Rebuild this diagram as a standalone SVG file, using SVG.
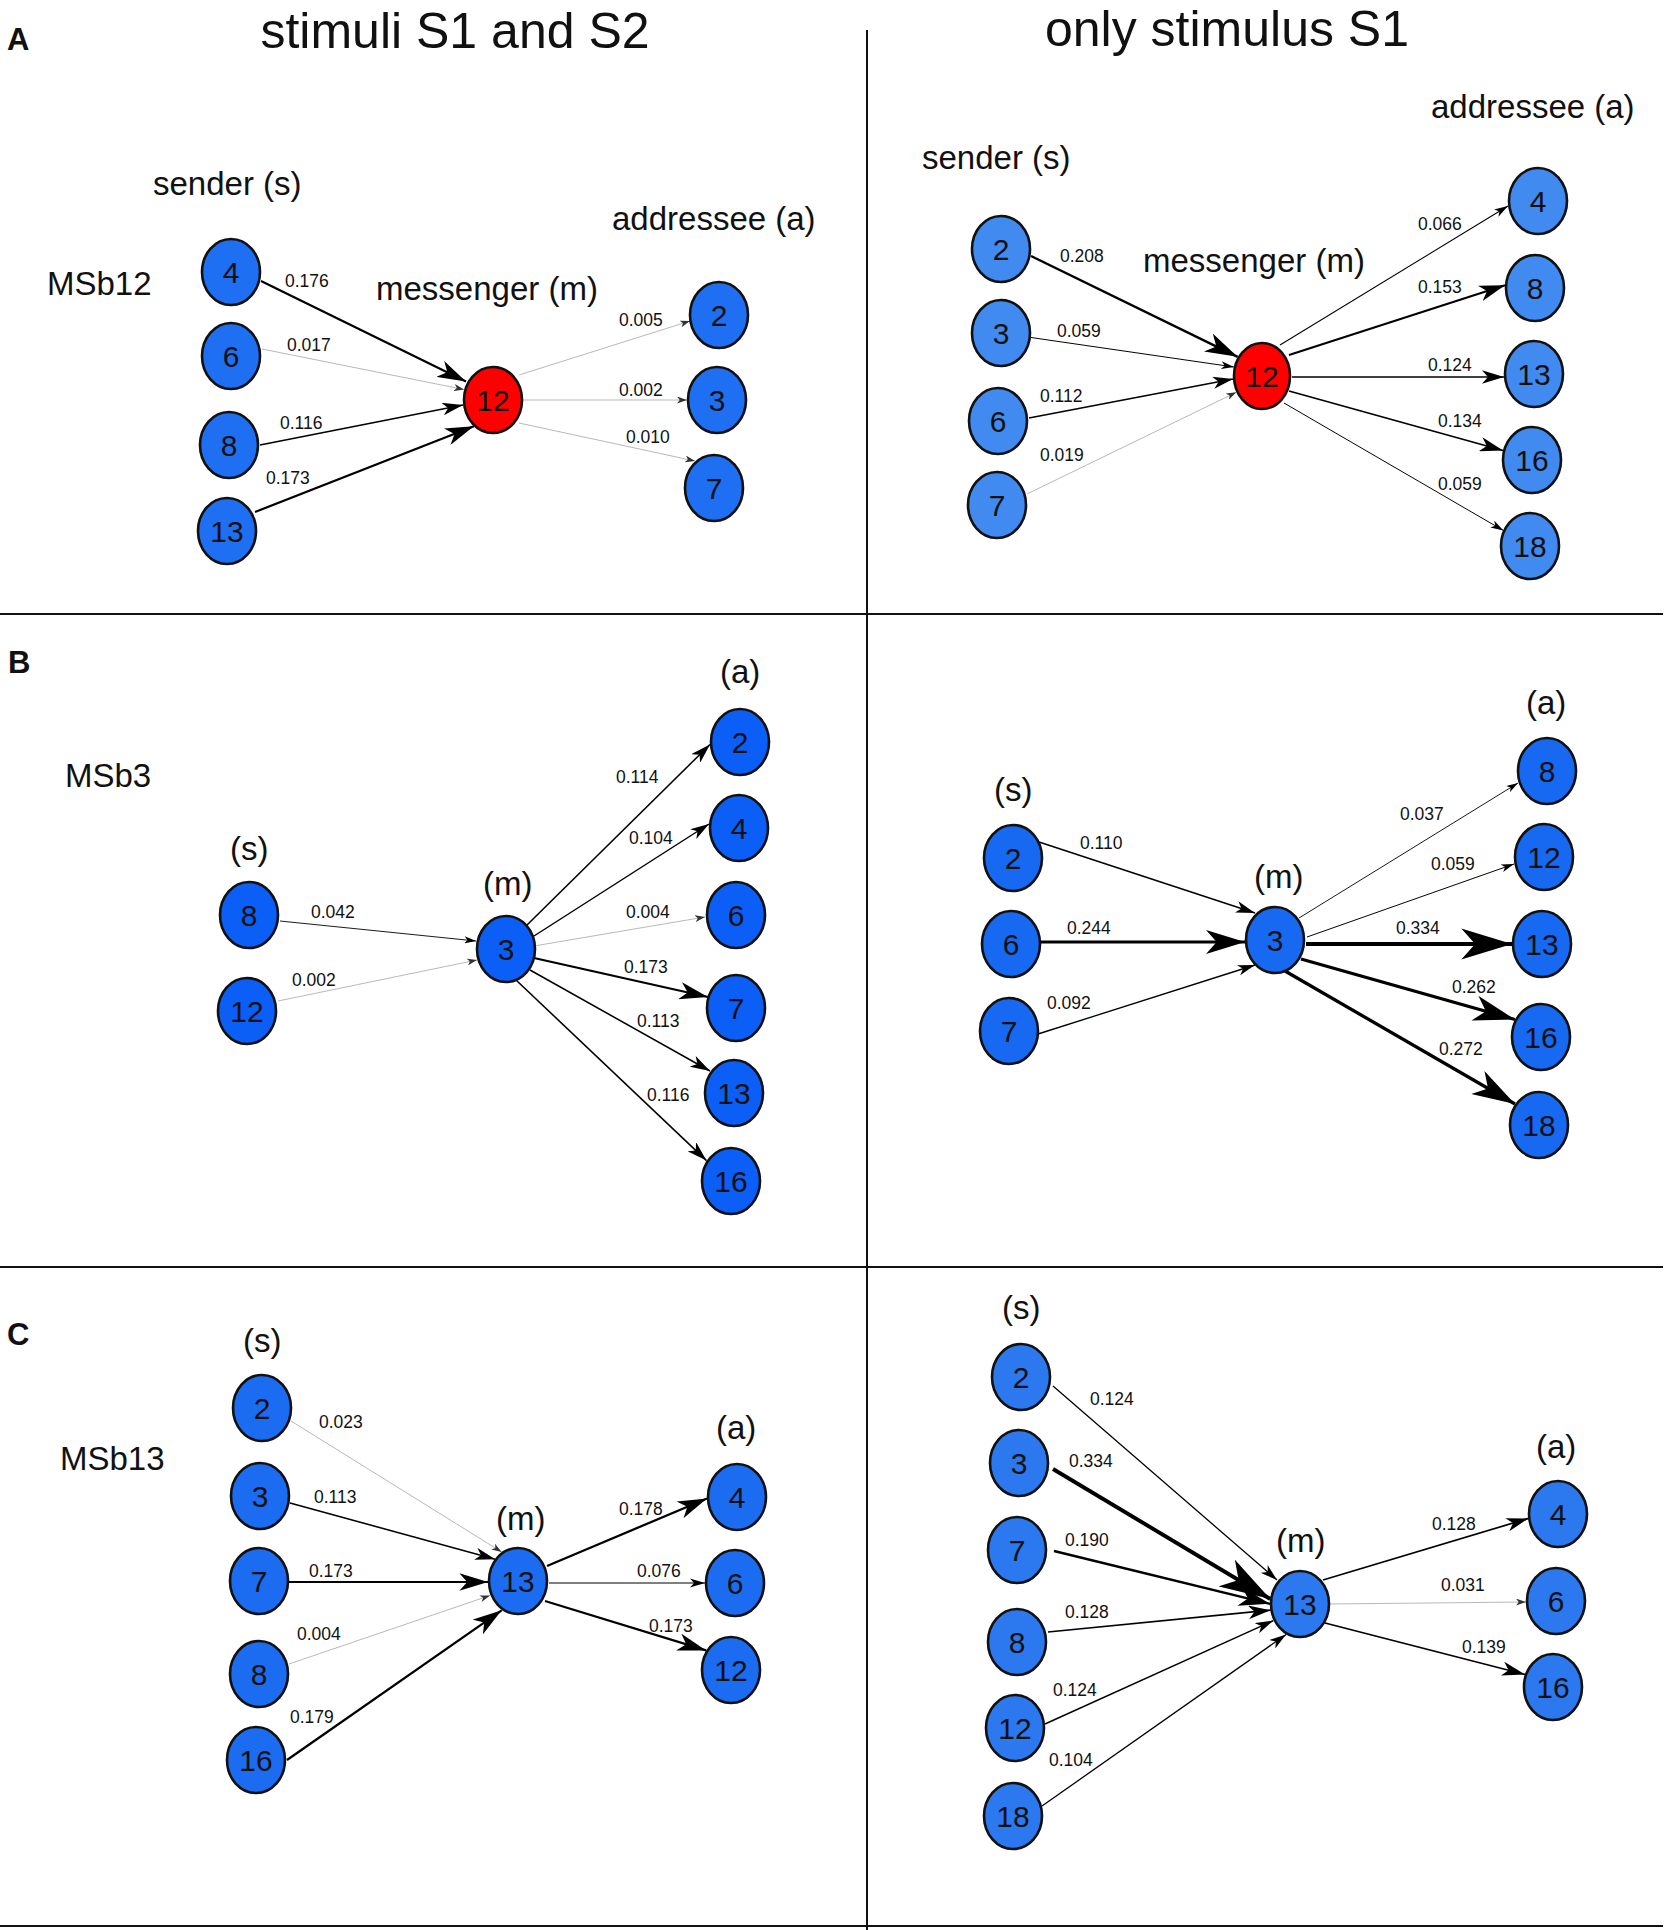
<svg xmlns="http://www.w3.org/2000/svg" width="1669" height="1930" viewBox="0 0 1669 1930">
<style>
text{font-family:"Liberation Sans",Arial,sans-serif;fill:#111}
.ttl{font-size:50px;text-anchor:middle}
.pl{font-size:31px;font-weight:bold}
.lbl{font-size:33px}
.w{font-size:17.5px}
.n ellipse{stroke:#111;stroke-width:2.6}
.n text{font-size:30px;text-anchor:middle}
.fa1{fill:#1f6ff2}.fa2{fill:#418af0}.fb1{fill:#0b5ff6}.fb2{fill:#1669f0}.fc1{fill:#1c6cf2}.fc2{fill:#2c78ee}.red{fill:#ff0000}
.e{stroke:#000;fill:none;marker-end:url(#ah)}
.g{stroke:#9a9a9a;stroke-width:0.7;fill:none;marker-end:url(#ahs)}
.frame{stroke:#111;stroke-width:2}
</style>
<defs>
<marker id="ah" viewBox="0 0 11 7.5" refX="11" refY="3.75" markerWidth="13" markerHeight="8" markerUnits="strokeWidth" orient="auto" preserveAspectRatio="none"><path d="M0,0 L11,3.75 L0,7.5 L3,3.75 z" fill="#000"/></marker>
<marker id="ahs" viewBox="0 0 11 7.5" refX="11" refY="3.75" markerWidth="10" markerHeight="7" markerUnits="userSpaceOnUse" orient="auto" preserveAspectRatio="none"><path d="M0,0 L11,3.75 L0,7.5 L3,3.75 z" fill="#333"/></marker>
</defs>
<rect width="1669" height="1930" fill="#fff"/>
<g id="frame">
<line class="frame" x1="867" y1="30" x2="867" y2="1930"/>
<line class="frame" x1="0" y1="614" x2="1663" y2="614"/>
<line class="frame" x1="0" y1="1267" x2="1663" y2="1267"/>
<line class="frame" x1="0" y1="1926" x2="1663" y2="1926"/>
</g>
<g id="titles">
<text class="ttl" x="455" y="48">stimuli S1 and S2</text>
<text class="ttl" x="1227" y="46">only stimulus S1</text>
<text class="pl" x="7" y="50">A</text>
<text class="pl" x="8" y="673">B</text>
<text class="pl" x="7" y="1345">C</text>
</g>
<g id="labels">
<text class="lbl" x="153" y="195">sender (s)</text>
<text class="lbl" x="376" y="300">messenger (m)</text>
<text class="lbl" x="612" y="230">addressee (a)</text>
<text class="lbl" x="47" y="295">MSb12</text>
<text class="lbl" x="1431" y="118">addressee (a)</text>
<text class="lbl" x="922" y="169">sender (s)</text>
<text class="lbl" x="1143" y="272">messenger (m)</text>
<text class="lbl" x="65" y="787">MSb3</text>
<text class="lbl" x="230" y="860">(s)</text>
<text class="lbl" x="483" y="895">(m)</text>
<text class="lbl" x="720" y="683">(a)</text>
<text class="lbl" x="1526" y="714">(a)</text>
<text class="lbl" x="994" y="801">(s)</text>
<text class="lbl" x="1254" y="888">(m)</text>
<text class="lbl" x="60" y="1470">MSb13</text>
<text class="lbl" x="243" y="1352">(s)</text>
<text class="lbl" x="496" y="1530">(m)</text>
<text class="lbl" x="716" y="1439">(a)</text>
<text class="lbl" x="1002" y="1319">(s)</text>
<text class="lbl" x="1276" y="1552">(m)</text>
<text class="lbl" x="1536" y="1458">(a)</text>
</g>
<g id="connectors">
<line class="e" x1="261" y1="281" x2="466" y2="381.5" stroke-width="2.2"/>
<line class="g" x1="262" y1="349" x2="464" y2="389.5"/>
<line class="e" x1="260" y1="445" x2="463" y2="405" stroke-width="1.6"/>
<line class="e" x1="255" y1="512" x2="473.9" y2="426.3" stroke-width="2.2"/>
<line class="g" x1="519" y1="375" x2="690" y2="321"/>
<line class="g" x1="522" y1="400" x2="687" y2="400"/>
<line class="g" x1="519" y1="423" x2="695" y2="461"/>
<line class="e" x1="1031" y1="256" x2="1237.6" y2="356.8" stroke-width="2.5"/>
<line class="e" x1="1031" y1="337.5" x2="1234" y2="367" stroke-width="0.99"/>
<line class="e" x1="1029" y1="418" x2="1233" y2="379" stroke-width="1.55"/>
<line class="g" x1="1027" y1="494" x2="1236.3" y2="392.3"/>
<line class="e" x1="1280" y1="345" x2="1508" y2="206" stroke-width="1.06"/>
<line class="e" x1="1289" y1="355" x2="1505" y2="285.3" stroke-width="2"/>
<line class="e" x1="1292" y1="377" x2="1504" y2="377" stroke-width="1.7"/>
<line class="e" x1="1289" y1="391" x2="1503.1" y2="450.5" stroke-width="1.8"/>
<line class="e" x1="1284" y1="403" x2="1503.4" y2="530.5" stroke-width="0.99"/>
<line class="e" x1="280" y1="921" x2="476" y2="941" stroke-width="0.9"/>
<line class="g" x1="278" y1="1001" x2="477" y2="960"/>
<line class="e" x1="527" y1="925" x2="710" y2="744.5" stroke-width="1.54"/>
<line class="e" x1="534" y1="936" x2="709" y2="824" stroke-width="1.44"/>
<line class="g" x1="534" y1="946" x2="705" y2="917"/>
<line class="e" x1="534" y1="958" x2="708" y2="997" stroke-width="2.2"/>
<line class="e" x1="530" y1="970" x2="710" y2="1071" stroke-width="1.53"/>
<line class="e" x1="516" y1="980" x2="706.5" y2="1160.6" stroke-width="1.56"/>
<line class="e" x1="1039" y1="842" x2="1255" y2="913" stroke-width="1.5"/>
<line class="e" x1="1041" y1="942" x2="1245" y2="942" stroke-width="3"/>
<line class="e" x1="1038" y1="1034" x2="1255" y2="965" stroke-width="1.32"/>
<line class="e" x1="1299" y1="918" x2="1518" y2="783" stroke-width="0.9"/>
<line class="e" x1="1307" y1="937" x2="1514" y2="864" stroke-width="0.99"/>
<line class="e" x1="1306" y1="944" x2="1512" y2="944" stroke-width="3.9"/>
<line class="e" x1="1301" y1="959" x2="1515" y2="1019.5" stroke-width="3.2"/>
<line class="e" x1="1285" y1="971" x2="1515" y2="1104" stroke-width="3.3"/>
<line class="g" x1="291" y1="1421" x2="501.6" y2="1551.9"/>
<line class="e" x1="290" y1="1503" x2="495.2" y2="1559.2" stroke-width="1.55"/>
<line class="e" x1="289" y1="1582" x2="488" y2="1582" stroke-width="2.2"/>
<line class="g" x1="289" y1="1664" x2="490" y2="1595.5"/>
<line class="e" x1="287" y1="1760" x2="501.7" y2="1610.3" stroke-width="2.25"/>
<line class="e" x1="547" y1="1566" x2="707" y2="1498.5" stroke-width="2.25"/>
<line class="e" x1="549" y1="1583" x2="705" y2="1583" stroke-width="1.16"/>
<line class="e" x1="545" y1="1601" x2="706.1" y2="1650.4" stroke-width="2.2"/>
<line class="e" x1="1053" y1="1386" x2="1277" y2="1580" stroke-width="1.3"/>
<line class="e" x1="1053" y1="1469" x2="1270.3" y2="1599" stroke-width="3.9"/>
<line class="e" x1="1054" y1="1551" x2="1270" y2="1603.8" stroke-width="2.4"/>
<line class="e" x1="1048" y1="1632" x2="1270.5" y2="1610.2" stroke-width="1.7"/>
<line class="e" x1="1045" y1="1724" x2="1273.4" y2="1620.6" stroke-width="1.4"/>
<line class="e" x1="1042" y1="1806" x2="1286.1" y2="1634.5" stroke-width="1.3"/>
<line class="e" x1="1323" y1="1580" x2="1528.5" y2="1518.4" stroke-width="1.7"/>
<line class="g" x1="1329" y1="1604" x2="1526" y2="1602"/>
<line class="e" x1="1325" y1="1623" x2="1525.1" y2="1674.5" stroke-width="1.8"/>
</g>
<g id="weights">
<text class="w" x="285" y="287">0.176</text>
<text class="w" x="287" y="351">0.017</text>
<text class="w" x="280" y="429">0.116</text>
<text class="w" x="266" y="484">0.173</text>
<text class="w" x="619" y="326">0.005</text>
<text class="w" x="619" y="396">0.002</text>
<text class="w" x="626" y="443">0.010</text>
<text class="w" x="1060" y="262">0.208</text>
<text class="w" x="1057" y="337">0.059</text>
<text class="w" x="1040" y="402">0.112</text>
<text class="w" x="1040" y="461">0.019</text>
<text class="w" x="1418" y="230">0.066</text>
<text class="w" x="1418" y="293">0.153</text>
<text class="w" x="1428" y="371">0.124</text>
<text class="w" x="1438" y="427">0.134</text>
<text class="w" x="1438" y="490">0.059</text>
<text class="w" x="311" y="918">0.042</text>
<text class="w" x="292" y="986">0.002</text>
<text class="w" x="616" y="783">0.114</text>
<text class="w" x="629" y="844">0.104</text>
<text class="w" x="626" y="918">0.004</text>
<text class="w" x="624" y="973">0.173</text>
<text class="w" x="637" y="1027">0.113</text>
<text class="w" x="647" y="1101">0.116</text>
<text class="w" x="1080" y="849">0.110</text>
<text class="w" x="1067" y="934">0.244</text>
<text class="w" x="1047" y="1009">0.092</text>
<text class="w" x="1400" y="820">0.037</text>
<text class="w" x="1431" y="870">0.059</text>
<text class="w" x="1396" y="934">0.334</text>
<text class="w" x="1452" y="993">0.262</text>
<text class="w" x="1439" y="1055">0.272</text>
<text class="w" x="319" y="1428">0.023</text>
<text class="w" x="314" y="1503">0.113</text>
<text class="w" x="309" y="1577">0.173</text>
<text class="w" x="297" y="1640">0.004</text>
<text class="w" x="290" y="1723">0.179</text>
<text class="w" x="619" y="1515">0.178</text>
<text class="w" x="637" y="1577">0.076</text>
<text class="w" x="649" y="1632">0.173</text>
<text class="w" x="1090" y="1405">0.124</text>
<text class="w" x="1069" y="1467">0.334</text>
<text class="w" x="1065" y="1546">0.190</text>
<text class="w" x="1065" y="1618">0.128</text>
<text class="w" x="1053" y="1696">0.124</text>
<text class="w" x="1049" y="1766">0.104</text>
<text class="w" x="1432" y="1530">0.128</text>
<text class="w" x="1441" y="1591">0.031</text>
<text class="w" x="1462" y="1653">0.139</text>
</g>
<g id="panelA1">
<g id="a1_4" class="n"><ellipse class="fa1" cx="231" cy="272" rx="29" ry="33"/><text x="231" y="282.5">4</text></g>
<g id="a1_6" class="n"><ellipse class="fa1" cx="231" cy="356" rx="29" ry="33"/><text x="231" y="366.5">6</text></g>
<g id="a1_8" class="n"><ellipse class="fa1" cx="229" cy="445" rx="29" ry="33"/><text x="229" y="455.5">8</text></g>
<g id="a1_13" class="n"><ellipse class="fa1" cx="227" cy="531" rx="29" ry="33"/><text x="227" y="541.5">13</text></g>
<g id="a1_12" class="n"><ellipse class="red" cx="493" cy="400" rx="29" ry="33"/><text x="493" y="410.5">12</text></g>
<g id="a1_2" class="n"><ellipse class="fa1" cx="719" cy="315" rx="29" ry="33"/><text x="719" y="325.5">2</text></g>
<g id="a1_3" class="n"><ellipse class="fa1" cx="717" cy="400" rx="29" ry="33"/><text x="717" y="410.5">3</text></g>
<g id="a1_7" class="n"><ellipse class="fa1" cx="714" cy="488" rx="29" ry="33"/><text x="714" y="498.5">7</text></g>
</g>
<g id="panelA2">
<g id="a2_2" class="n"><ellipse class="fa2" cx="1001" cy="249" rx="29" ry="33"/><text x="1001" y="259.5">2</text></g>
<g id="a2_3" class="n"><ellipse class="fa2" cx="1001" cy="333" rx="29" ry="33"/><text x="1001" y="343.5">3</text></g>
<g id="a2_6" class="n"><ellipse class="fa2" cx="998" cy="421" rx="29" ry="33"/><text x="998" y="431.5">6</text></g>
<g id="a2_7" class="n"><ellipse class="fa2" cx="997" cy="505" rx="29" ry="33"/><text x="997" y="515.5">7</text></g>
<g id="a2_12" class="n"><ellipse class="red" cx="1262" cy="376" rx="28" ry="33"/><text x="1262" y="386.5">12</text></g>
<g id="a2_4" class="n"><ellipse class="fa2" cx="1538" cy="201" rx="29" ry="33"/><text x="1538" y="211.5">4</text></g>
<g id="a2_8" class="n"><ellipse class="fa2" cx="1535" cy="288" rx="29" ry="33"/><text x="1535" y="298.5">8</text></g>
<g id="a2_13" class="n"><ellipse class="fa2" cx="1534" cy="374" rx="29" ry="33"/><text x="1534" y="384.5">13</text></g>
<g id="a2_16" class="n"><ellipse class="fa2" cx="1532" cy="460" rx="29" ry="33"/><text x="1532" y="470.5">16</text></g>
<g id="a2_18" class="n"><ellipse class="fa2" cx="1530" cy="546" rx="29" ry="33"/><text x="1530" y="556.5">18</text></g>
</g>
<g id="panelB1">
<g id="b1_8" class="n"><ellipse class="fb1" cx="249" cy="915" rx="29" ry="33"/><text x="249" y="925.5">8</text></g>
<g id="b1_12" class="n"><ellipse class="fb1" cx="247" cy="1011" rx="29" ry="33"/><text x="247" y="1021.5">12</text></g>
<g id="b1_3" class="n"><ellipse class="fb1" cx="506" cy="949" rx="29" ry="33"/><text x="506" y="959.5">3</text></g>
<g id="b1_2" class="n"><ellipse class="fb1" cx="740" cy="742" rx="29" ry="33"/><text x="740" y="752.5">2</text></g>
<g id="b1_4" class="n"><ellipse class="fb1" cx="739" cy="828" rx="29" ry="33"/><text x="739" y="838.5">4</text></g>
<g id="b1_6" class="n"><ellipse class="fb1" cx="736" cy="915" rx="29" ry="33"/><text x="736" y="925.5">6</text></g>
<g id="b1_7" class="n"><ellipse class="fb1" cx="736" cy="1008" rx="29" ry="33"/><text x="736" y="1018.5">7</text></g>
<g id="b1_13" class="n"><ellipse class="fb1" cx="734" cy="1093" rx="29" ry="33"/><text x="734" y="1103.5">13</text></g>
<g id="b1_16" class="n"><ellipse class="fb1" cx="731" cy="1181" rx="29" ry="33"/><text x="731" y="1191.5">16</text></g>
</g>
<g id="panelB2">
<g id="b2_2" class="n"><ellipse class="fb2" cx="1013" cy="858" rx="29" ry="33"/><text x="1013" y="868.5">2</text></g>
<g id="b2_6" class="n"><ellipse class="fb2" cx="1011" cy="944" rx="29" ry="33"/><text x="1011" y="954.5">6</text></g>
<g id="b2_7" class="n"><ellipse class="fb2" cx="1009" cy="1031" rx="29" ry="33"/><text x="1009" y="1041.5">7</text></g>
<g id="b2_3" class="n"><ellipse class="fb2" cx="1275" cy="940" rx="29" ry="33"/><text x="1275" y="950.5">3</text></g>
<g id="b2_8" class="n"><ellipse class="fb2" cx="1547" cy="771" rx="29" ry="33"/><text x="1547" y="781.5">8</text></g>
<g id="b2_12" class="n"><ellipse class="fb2" cx="1544" cy="857" rx="29" ry="33"/><text x="1544" y="867.5">12</text></g>
<g id="b2_13" class="n"><ellipse class="fb2" cx="1542" cy="944" rx="29" ry="33"/><text x="1542" y="954.5">13</text></g>
<g id="b2_16" class="n"><ellipse class="fb2" cx="1541" cy="1037" rx="29" ry="33"/><text x="1541" y="1047.5">16</text></g>
<g id="b2_18" class="n"><ellipse class="fb2" cx="1539" cy="1125" rx="29" ry="33"/><text x="1539" y="1135.5">18</text></g>
</g>
<g id="panelC1">
<g id="c1_2" class="n"><ellipse class="fc1" cx="262" cy="1408" rx="29" ry="33"/><text x="262" y="1418.5">2</text></g>
<g id="c1_3" class="n"><ellipse class="fc1" cx="260" cy="1496" rx="29" ry="33"/><text x="260" y="1506.5">3</text></g>
<g id="c1_7" class="n"><ellipse class="fc1" cx="259" cy="1581" rx="29" ry="33"/><text x="259" y="1591.5">7</text></g>
<g id="c1_8" class="n"><ellipse class="fc1" cx="259" cy="1674" rx="29" ry="33"/><text x="259" y="1684.5">8</text></g>
<g id="c1_16" class="n"><ellipse class="fc1" cx="256" cy="1760" rx="29" ry="33"/><text x="256" y="1770.5">16</text></g>
<g id="c1_13" class="n"><ellipse class="fc1" cx="518" cy="1581" rx="29" ry="33"/><text x="518" y="1591.5">13</text></g>
<g id="c1_4" class="n"><ellipse class="fc1" cx="737" cy="1497" rx="29" ry="33"/><text x="737" y="1507.5">4</text></g>
<g id="c1_6" class="n"><ellipse class="fc1" cx="735" cy="1583" rx="29" ry="33"/><text x="735" y="1593.5">6</text></g>
<g id="c1_12" class="n"><ellipse class="fc1" cx="731" cy="1670" rx="29" ry="33"/><text x="731" y="1680.5">12</text></g>
</g>
<g id="panelC2">
<g id="c2_2" class="n"><ellipse class="fc2" cx="1021" cy="1377" rx="29" ry="33"/><text x="1021" y="1387.5">2</text></g>
<g id="c2_3" class="n"><ellipse class="fc2" cx="1019" cy="1463" rx="29" ry="33"/><text x="1019" y="1473.5">3</text></g>
<g id="c2_7" class="n"><ellipse class="fc2" cx="1017" cy="1550" rx="29" ry="33"/><text x="1017" y="1560.5">7</text></g>
<g id="c2_8" class="n"><ellipse class="fc2" cx="1017" cy="1642" rx="29" ry="33"/><text x="1017" y="1652.5">8</text></g>
<g id="c2_12" class="n"><ellipse class="fc2" cx="1015" cy="1728" rx="29" ry="33"/><text x="1015" y="1738.5">12</text></g>
<g id="c2_18" class="n"><ellipse class="fc2" cx="1013" cy="1816" rx="29" ry="33"/><text x="1013" y="1826.5">18</text></g>
<g id="c2_13" class="n"><ellipse class="fc2" cx="1300" cy="1604" rx="29" ry="33"/><text x="1300" y="1614.5">13</text></g>
<g id="c2_4" class="n"><ellipse class="fc2" cx="1558" cy="1514" rx="29" ry="33"/><text x="1558" y="1524.5">4</text></g>
<g id="c2_6" class="n"><ellipse class="fc2" cx="1556" cy="1601" rx="29" ry="33"/><text x="1556" y="1611.5">6</text></g>
<g id="c2_16" class="n"><ellipse class="fc2" cx="1553" cy="1687" rx="29" ry="33"/><text x="1553" y="1697.5">16</text></g>
</g>
</svg>
